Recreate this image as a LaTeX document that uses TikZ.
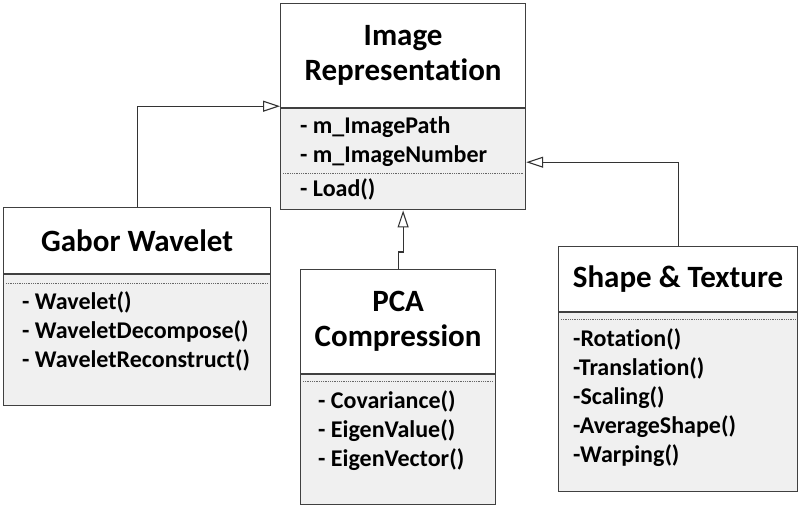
\documentclass[tikz,border=0pt]{standalone}
\usepackage{fontspec}
\setmainfont{Carlito}[Ligatures=NoCommon]
\usetikzlibrary{arrows.meta}
\usetikzlibrary{positioning}

\begin{document}
\begin{tikzpicture}[x=1pt,y=-1pt,
  classhead/.style={draw=black!75,line width=1.2pt,fill=white,anchor=north west,align=center,inner sep=0pt,font=\fontsize{31}{35}\selectfont\bfseries},
  classbody/.style={draw=black!75,line width=1.2pt,fill=black!6,anchor=north west,inner sep=0pt},
  members/.style={anchor=north west,align=left,inner sep=0pt,font=\fontsize{24}{29}\selectfont\bfseries},
  sep/.style={densely dotted,black!60,line width=0.8pt},
  inherit/.style={draw=black!80,line width=1.1pt,-{Triangle[open,length=17pt,width=11pt,fill=white]}}]
\useasboundingbox (0,0) rectangle (800,506);

% Image Representation
\node[classhead,minimum width=245pt,minimum height=104pt] (img) at (280,3) {Image\\Representation};
\node[classbody,minimum width=245pt,minimum height=101pt] (imgb) at (img.south west) {};
\node[members] (imga) at ([xshift=20pt,yshift=-8pt]imgb.north west) {- m\_ImagePath\\- m\_ImageNumber};
\draw[sep] ([xshift=3pt,yshift=-65pt]imgb.north west) -- ([xshift=-3pt,yshift=-65pt]imgb.north east);
\node[members] (imgm) at ([xshift=20pt,yshift=-70pt]imgb.north west) {- Load()};

% Gabor Wavelet
\node[classhead,minimum width=267pt,minimum height=66pt] (gab) at (3,207) {Gabor Wavelet};
\node[classbody,minimum width=267pt,minimum height=131pt] (gabb) at (gab.south west) {};
\draw[sep] ([xshift=3pt,yshift=-9pt]gabb.north west) -- ([xshift=-3pt,yshift=-9pt]gabb.north east);
\node[members] (gabm) at ([xshift=19pt,yshift=-17pt]gabb.north west) {- Wavelet()\\- WaveletDecompose()\\- WaveletReconstruct()};

% PCA Compression
\node[classhead,minimum width=195pt,minimum height=104pt] (pca) at (300,269) {PCA\\Compression};
\node[classbody,minimum width=195pt,minimum height=130pt] (pcab) at (pca.south west) {};
\draw[sep] ([xshift=3pt,yshift=-7pt]pcab.north west) -- ([xshift=-3pt,yshift=-7pt]pcab.north east);
\node[members] (pcam) at ([xshift=18pt,yshift=-16pt]pcab.north west) {- Covariance()\\- EigenValue()\\- EigenVector()};

% Shape & Texture
\node[classhead,minimum width=239pt,minimum height=65pt] (shp) at (558,246) {Shape \& Texture};
\node[classbody,minimum width=239pt,minimum height=179pt] (shpb) at (shp.south west) {};
\draw[sep] ([xshift=3pt,yshift=-7pt]shpb.north west) -- ([xshift=-3pt,yshift=-7pt]shpb.north east);
\node[members] (shpm) at ([xshift=15pt,yshift=-16pt]shpb.north west) {-Rotation()\\-Translation()\\-Scaling()\\-AverageShape()\\-Warping()};

% inheritance
\draw[inherit] (gab.north) |- ([yshift=2pt]img.south west);
\draw[inherit] (pca.north) -- ++(0,-17) -| (imgb.south);
\draw[inherit] (shp.north) |- ([yshift=-54pt]imgb.north east);
\end{tikzpicture}
\end{document}
